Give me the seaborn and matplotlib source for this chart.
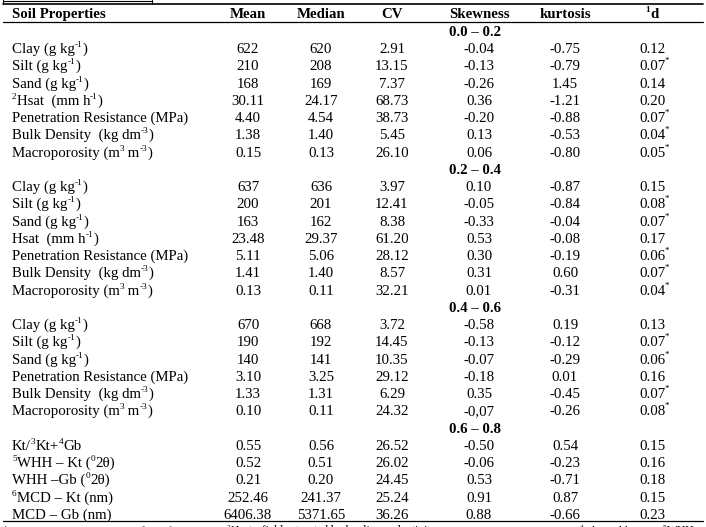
import re
import matplotlib
matplotlib.use("Agg")
import matplotlib.pyplot as plt
import seaborn as sns

sns.set_theme(style="white")
plt.rcParams['font.family'] = ['Liberation Serif', 'DejaVu Serif']

# ---------------- data ----------------
headers = ["Soil Properties", "Mean", "Median", "CV", "Skewness", "kurtosis", "^{1}d"]
sections = ["0.0 – 0.2", "0.2 – 0.4", "0.4 – 0.6", "0.6 – 0.8"]

labels_1 = ["Clay (g kg^{-1})", "Silt (g kg^{-1})", "Sand (g kg^{-1})",
            "^{2}Hsat  (mm h^{-1})", "Penetration Resistance (MPa)",
            "Bulk Density  (kg dm^{-3})", "Macroporosity (m^{3} m^{-3})"]
mean_1 = ["622", "210", "168", "30.11", "4.40", "1.38", "0.15"]
median_1 = ["620", "208", "169", "24.17", "4.54", "1.40", "0.13"]
cv_1 = ["2.91", "13.15", "7.37", "68.73", "38.73", "5.45", "26.10"]
skew_1 = ["-0.04", "-0.13", "-0.26", "0.36", "-0.20", "0.13", "0.06"]
kurt_1 = ["-0.75", "-0.79", "1.45", "-1.21", "-0.88", "-0.53", "-0.80"]
d_1 = ["0.12", "0.07", "0.14", "0.20", "0.07", "0.04", "0.05"]
sig_1 = [False, True, False, False, True, True, True]

labels_2 = ["Clay (g kg^{-1})", "Silt (g kg^{-1})", "Sand (g kg^{-1})",
            "Hsat  (mm h^{-1})", "Penetration Resistance (MPa)",
            "Bulk Density  (kg dm^{-3})", "Macroporosity (m^{3} m^{-3})"]
mean_2 = ["637", "200", "163", "23.48", "5.11", "1.41", "0.13"]
median_2 = ["636", "201", "162", "29.37", "5.06", "1.40", "0.11"]
cv_2 = ["3.97", "12.41", "8.38", "61.20", "28.12", "8.57", "32.21"]
skew_2 = ["0.10", "-0.05", "-0.33", "0.53", "0.30", "0.31", "0.01"]
kurt_2 = ["-0.87", "-0.84", "-0.04", "-0.08", "-0.19", "0.60", "-0.31"]
d_2 = ["0.15", "0.08", "0.07", "0.17", "0.06", "0.07", "0.04"]
sig_2 = [False, True, True, False, True, True, True]

labels_3 = ["Clay (g kg^{-1})", "Silt (g kg^{-1})", "Sand (g kg^{-1})",
            "Penetration Resistance (MPa)",
            "Bulk Density  (kg dm^{-3})", "Macroporosity (m^{3} m^{-3})"]
mean_3 = ["670", "190", "140", "3.10", "1.33", "0.10"]
median_3 = ["668", "192", "141", "3.25", "1.31", "0.11"]
cv_3 = ["3.72", "14.45", "10.35", "29.12", "6.29", "24.32"]
skew_3 = ["-0.58", "-0.13", "-0.07", "-0.18", "0.35", "-0,07"]
kurt_3 = ["0.19", "-0.12", "-0.29", "0.01", "-0.45", "-0.26"]
d_3 = ["0.13", "0.07", "0.06", "0.16", "0.07", "0.08"]
sig_3 = [False, True, True, False, True, True]

labels_4 = ["Kt/^{3}Kt+^{4}Gb", "^{5}WHH – Kt (^{0}2θ)", "WHH –Gb (^{0}2θ)",
            "^{6}MCD – Kt (nm)", "MCD – Gb (nm)"]
mean_4 = ["0.55", "0.52", "0.21", "252.46", "6406.38"]
median_4 = ["0.56", "0.51", "0.20", "241.37", "5371.65"]
cv_4 = ["26.52", "26.02", "24.45", "25.24", "36.26"]
skew_4 = ["-0.50", "-0.06", "0.53", "0.91", "0.88"]
kurt_4 = ["0.54", "-0.23", "-0.71", "0.87", "-0.66"]
d_4 = ["0.15", "0.16", "0.18", "0.15", "0.23"]
sig_4 = [False, False, False, False, False]

footnotes = ["^{1}d= Kolmogorov-Smirnov test, ^{*}significant at 5%;",
             "^{2}Hsat= field saturated hydraulic conductivity;",
             "^{3}Kt= Kaolinite;",
             "^{4}Gb= Gibbsite;",
             "^{5}WHH="]

blocks = [
    (labels_1, mean_1, median_1, cv_1, skew_1, kurt_1, d_1, sig_1),
    (labels_2, mean_2, median_2, cv_2, skew_2, kurt_2, d_2, sig_2),
    (labels_3, mean_3, median_3, cv_3, skew_3, kurt_3, d_3, sig_3),
    (labels_4, mean_4, median_4, cv_4, skew_4, kurt_4, d_4, sig_4),
]

# ---------------- layout ----------------
W, H = 706, 527
fig = plt.figure(figsize=(W / 100, H / 100), dpi=100)
ax = fig.add_axes([0, 0, 1, 1])
ax.set_xlim(0, W)
ax.set_ylim(H, 0)
ax.axis("off")
renderer = fig.canvas.get_renderer()

FS = 10.7
label_x = 12
col_x = [248, 321, 392, 479, 565, 652]
row0 = 31.0
dy = 17.25
base_off = 4.8

def text_width(s, fs, bold):
    t1 = ax.text(0, 0, "|" + s + "|", fontsize=fs, fontweight="bold" if bold else "normal")
    t2 = ax.text(0, 0, "||", fontsize=fs, fontweight="bold" if bold else "normal")
    w = t1.get_window_extent(renderer).width - t2.get_window_extent(renderer).width
    t1.remove(); t2.remove()
    return w

def segments(s, fs, bold):
    parts = re.split(r"\^\{([^}]*)\}", s)
    segs = []
    for k, p in enumerate(parts):
        if p == "":
            continue
        sup = (k % 2 == 1)
        f = fs * 0.62 if sup else fs
        segs.append((p, sup, f, text_width(p, f, bold)))
    return segs

def rich(x, y, s, fs=FS, bold=False, ha="left"):
    segs = segments(s, fs, bold)
    total = sum(s_[3] for s_ in segs)
    cx = x - total / 2 if ha == "center" else x
    for p, sup, f, w in segs:
        yy = y - fs * 1.389 * 0.40 if sup else y
        ax.text(cx, yy, p, ha="left", va="baseline", fontsize=f,
                fontweight="bold" if bold else "normal", color="black")
        cx += w

def put(x, y, s, ha="center", bold=False):
    rich(x, y + base_off, s, ha=ha, bold=bold)

# header
put(label_x, 13, headers[0], ha="left", bold=True)
for x, h in zip(col_x, headers[1:]):
    put(x, 13, h, bold=True)

# rules
ax.plot([3, 152], [0.5, 0.5], color="black", lw=0.8)
ax.plot([3, 3], [0, 4], color="black", lw=0.8)
ax.plot([152, 152], [0, 4], color="black", lw=0.8)
ax.plot([3, 703], [4, 4], color="black", lw=1.2)
ax.plot([3, 703], [22, 22], color="black", lw=0.9)
ax.plot([3, 703], [521, 521], color="black", lw=0.9)

r = 0
for sec, blk in zip(sections, blocks):
    y = row0 + r * dy
    put(col_x[3] - 4, y, sec, bold=True)
    r += 1
    labs, mn, md, cv, sk, ku, dd, sg = blk
    for i in range(len(labs)):
        y = row0 + r * dy
        put(label_x, y, labs[i], ha="left")
        for x, v in zip(col_x, [mn[i], md[i], cv[i], sk[i], ku[i], dd[i]]):
            put(x, y, v)
        if sg[i]:
            ax.text(col_x[5] + 13, y + base_off - 7, "*", ha="left", va="baseline",
                    fontsize=6.5, color="black")
        r += 1

# footnote (mostly below the visible area, as in the source)
fx_list = [3, 227, 523, 580, 663]
slots = [fx_list[i + 1] - fx_list[i] - 3 for i in range(len(fx_list) - 1)] + [W - 663]
for fx, ft, slot in zip(fx_list, footnotes, slots):
    fs = 8.4
    wtot = sum(s_[3] for s_ in segments(ft, fs, False))
    if wtot > slot:
        fs = fs * slot / wtot
    rich(fx, 534.0, ft, fs=fs)

fig.savefig("out.png", dpi=100, facecolor="white")
